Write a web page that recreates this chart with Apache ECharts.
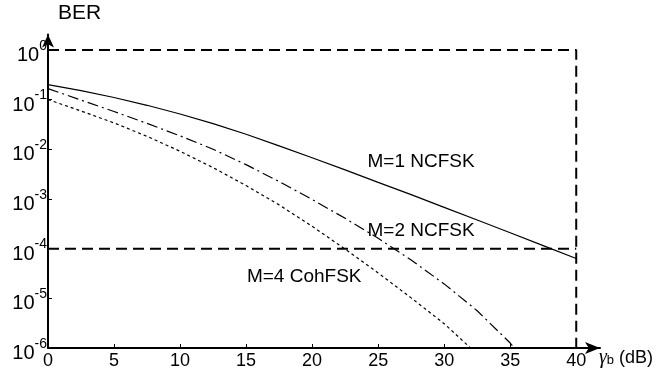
<!DOCTYPE html>
<html>
<head>
<meta charset="utf-8">
<script src="https://cdn.jsdelivr.net/npm/echarts@6/dist/echarts.min.js"></script>
<style>
  html, body { margin: 0; padding: 0; background: #fff; }
  #chart { width: 657px; height: 379px; }
</style>
</head>
<body>
<div id="chart"></div>
<script>
// ---- data ----
const seriesNames = ['M=1 NCFSK', 'M=2 NCFSK', 'M=4 CohFSK'];

const snrM1 = [0, 2.5, 5, 7.5, 10, 12.5, 15, 17.5, 20, 22.5, 25, 27.5, 30, 32.5, 35, 37.5, 40];
const berM1 = [2.00e-1, 1.51e-1, 1.10e-1, 7.67e-2, 5.13e-2, 3.27e-2, 2.00e-2, 1.17e-2, 6.76e-3,
               3.85e-3, 2.16e-3, 1.22e-3, 6.76e-4, 3.76e-4, 2.09e-4, 1.15e-4, 6.31e-5];

const snrM2 = [0, 2.5, 5, 7.5, 10, 12.5, 15, 17.5, 20, 22.5, 25, 27.5, 30, 32.5, 35, 35.3];
const berM2 = [1.66e-1, 9.77e-2, 5.75e-2, 3.31e-2, 1.86e-2, 1.00e-2, 4.90e-3, 2.24e-3, 9.77e-4,
               4.07e-4, 1.62e-4, 5.89e-5, 1.95e-5, 5.62e-6, 1.26e-6, 1.0e-6];

const snrM4 = [0, 2.5, 5, 7.5, 10, 12.5, 15, 17.5, 20, 22.5, 25, 27.5, 30, 32];
const berM4 = [1.00e-1, 5.89e-2, 3.39e-2, 1.82e-2, 9.12e-3, 4.27e-3, 1.86e-3, 7.59e-4, 2.82e-4,
               9.77e-5, 3.24e-5, 1.02e-5, 3.09e-6, 1.0e-6];

// dashed reference lines
const frameX = [0, 40, 40];
const frameY = [1, 1, 1e-6];
const targetX = [0, 40];
const targetY = [1e-4, 1e-4];

// ticks
const xTicks = [0, 5, 10, 15, 20, 25, 30, 35, 40];
const yTicks = [1e-6, 1e-5, 1e-4, 1e-3, 1e-2, 1e-1, 1];
const yTickExponents = ['-6', '-5', '-4', '-3', '-2', '-1', '0'];

// ---- chart ----
const FONT = '"Liberation Sans", Arial, Helvetica, sans-serif';
const zip = (xs, ys) => xs.map((x, i) => [x, ys[i]]);

const chart = echarts.init(document.getElementById('chart'), null, { renderer: 'canvas' });

const labelStyle = { color: '#000', fontFamily: FONT, fontSize: 19 };

chart.setOption({
  animation: false,
  backgroundColor: '#fff',
  grid: { left: 48, right: 57, top: 34.5, bottom: 31, containLabel: false },
  xAxis: {
    type: 'value',
    min: 0,
    max: 41.8,
    name: '{g|γ}{s|b}{t| (dB)}',
    nameLocation: 'end',
    nameGap: 53,
    nameTextStyle: {
      align: 'right',
      verticalAlign: 'top',
      padding: [0, 0, 0, 0],
      rich: {
        g: { fontFamily: '"Liberation Serif", serif', fontStyle: 'italic', fontSize: 20, color: '#000' },
        s: { fontFamily: FONT, fontSize: 13, color: '#000', padding: [5, 0, 0, 0] },
        t: { fontFamily: FONT, fontSize: 18, color: '#000' }
      }
    },
    axisLine: { show: true, symbol: ['none', 'arrow'], symbolSize: [9, 15], lineStyle: { color: '#000', width: 2 } },
    axisTick: { show: true, inside: true, length: 4, customValues: xTicks, lineStyle: { color: '#000', width: 1 } },
    axisLabel: { customValues: xTicks, color: '#000', fontFamily: FONT, fontSize: 18, margin: 4 },
    splitLine: { show: false }
  },
  yAxis: {
    type: 'log',
    logBase: 10,
    min: 1e-6,
    max: 2.04,
    name: 'BER',
    nameLocation: 'end',
    nameGap: 11,
    nameTextStyle: { color: '#000', fontFamily: FONT, fontSize: 21, align: 'left', verticalAlign: 'bottom', padding: [0, 0, 0, 10] },
    axisLine: { show: true, symbol: ['none', 'arrow'], symbolSize: [9, 13], lineStyle: { color: '#000', width: 2 } },
    axisTick: { show: true, inside: true, length: 4, customValues: yTicks, lineStyle: { color: '#000', width: 1 } },
    axisLabel: {
      customValues: yTicks,
      margin: 1,
      formatter: function (v) {
        const i = yTicks.findIndex(t => Math.abs(Math.log10(t) - Math.log10(v)) < 1e-6);
        const e = i >= 0 ? yTickExponents[i] : String(Math.round(Math.log10(v)));
        return '{b|10}{s|' + e + '}';
      },
      rich: {
        b: { fontFamily: FONT, fontSize: 20, color: '#000', padding: [11, 0, 0, 0] },
        s: { fontFamily: FONT, fontSize: 14, color: '#000', padding: [3, 0, 11, 0] }
      }
    },
    splitLine: { show: false }
  },
  series: [
    {
      name: 'frame', type: 'line', data: zip(frameX, frameY), symbol: 'none', silent: true,
      lineStyle: { color: '#000', width: 2, type: [11, 6] }
    },
    {
      name: 'target', type: 'line', data: zip(targetX, targetY), symbol: 'none', silent: true,
      lineStyle: { color: '#000', width: 2, type: [11, 6] }
    },
    {
      name: seriesNames[0], type: 'line', data: zip(snrM1, berM1), symbol: 'none', smooth: false,
      lineStyle: { color: '#000', width: 1.2, type: 'solid' },
      markPoint: {
        symbol: 'circle', symbolSize: 0, silent: true,
        label: Object.assign({ show: true, position: 'inside', formatter: seriesNames[0] }, labelStyle),
        data: [{ coord: [28.25, 5.62e-3] }]
      }
    },
    {
      name: seriesNames[1], type: 'line', data: zip(snrM2, berM2), symbol: 'none', smooth: false,
      lineStyle: { color: '#000', width: 1.2, type: [11, 4, 2, 4] },
      markPoint: {
        symbol: 'circle', symbolSize: 0, silent: true,
        label: Object.assign({ show: true, position: 'inside', formatter: seriesNames[1] }, labelStyle),
        data: [{ coord: [28.25, 2.24e-4] }]
      }
    },
    {
      name: seriesNames[2], type: 'line', data: zip(snrM4, berM4), symbol: 'none', smooth: false,
      lineStyle: { color: '#000', width: 1.2, type: [3, 3] },
      markPoint: {
        symbol: 'circle', symbolSize: 0, silent: true,
        label: Object.assign({ show: true, position: 'inside', formatter: seriesNames[2] }, labelStyle),
        data: [{ coord: [19.4, 2.75e-5] }]
      }
    }
  ]
});
</script>
</body>
</html>
